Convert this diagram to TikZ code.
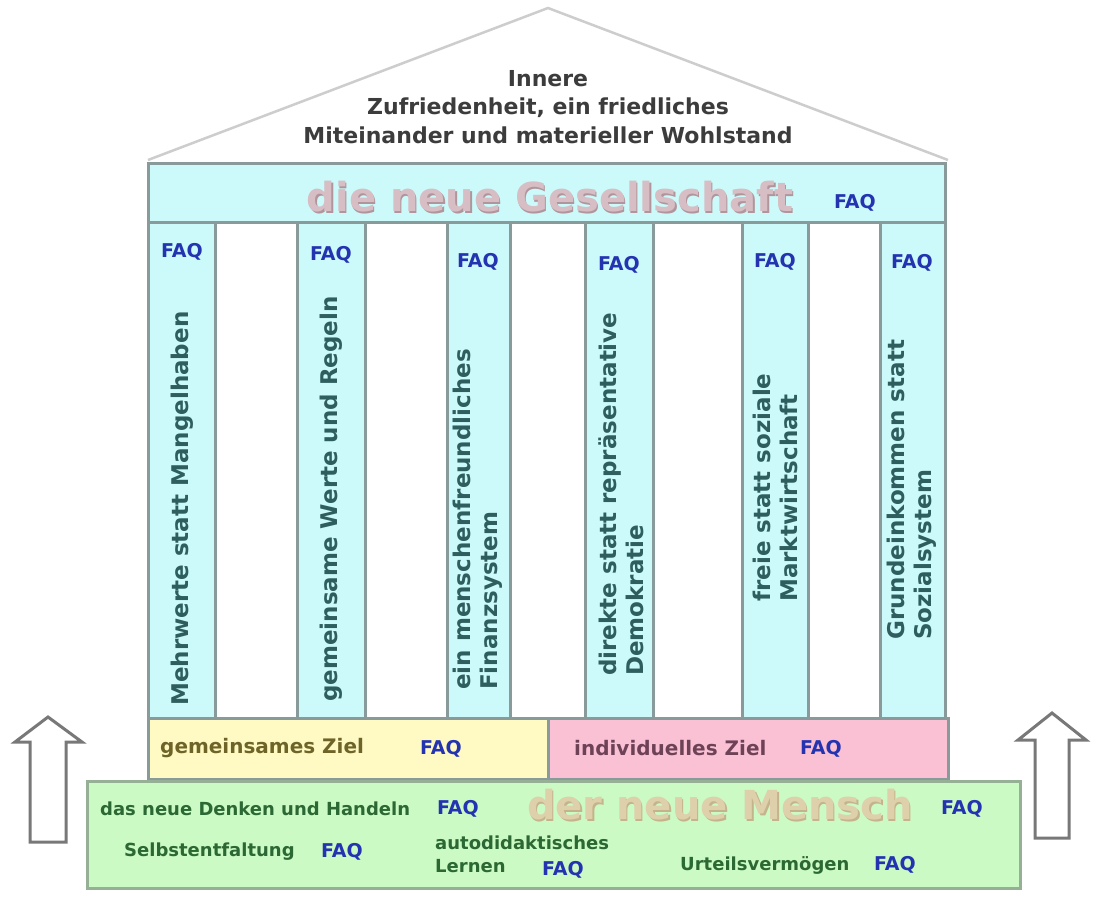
\documentclass[tikz,border=0pt]{standalone}
\usepackage{fontspec}
\setmainfont{DejaVu Sans}
\definecolor{cyanfill}{RGB}{204,250,250}
\definecolor{yellowfill}{RGB}{255,250,196}
\definecolor{pinkfill}{RGB}{250,192,212}
\definecolor{greenfill}{RGB}{204,250,196}
\definecolor{bordergray}{RGB}{136,154,154}
\definecolor{greenborder}{RGB}{150,176,150}
\definecolor{roofgray}{RGB}{205,205,205}
\definecolor{faqblue}{RGB}{36,52,176}
\definecolor{pillartxt}{RGB}{46,94,94}
\definecolor{rooftxt}{RGB}{60,60,60}
\definecolor{olivetxt}{RGB}{110,100,40}
\definecolor{mauvetxt}{RGB}{110,66,86}
\definecolor{greentxt}{RGB}{44,104,52}
\definecolor{gesfill}{RGB}{214,190,196}
\definecolor{gesshadow}{RGB}{176,150,156}
\definecolor{menfill}{RGB}{222,208,170}
\definecolor{menshadow}{RGB}{196,180,140}
\definecolor{arrowgray}{RGB}{120,120,120}
\tikzset{
  band/.style={draw=bordergray, line width=3pt},
  gband/.style={draw=greenborder, line width=3pt, fill=greenfill},
  faq/.style={text=faqblue, font=\bfseries\fontsize{19}{19}\selectfont, inner sep=0pt},
  pillartext/.style={rotate=90, anchor=west, align=left, text=pillartxt, font=\bfseries\fontsize{23}{27}\selectfont, inner sep=0pt},
  rooftext/.style={align=center, text=rooftxt, font=\bfseries\fontsize{22}{28.5}\selectfont, inner sep=0pt},
  bigtxt/.style={font=\bfseries\fontsize{40}{40}\selectfont, inner sep=0pt},
  zieltxt/.style={font=\bfseries\fontsize{20}{20}\selectfont, inner sep=0pt},
  basetxt/.style={text=greentxt, font=\bfseries\fontsize{18}{23}\selectfont, inner sep=0pt},
  uparrow/.style={draw=arrowgray, line width=3pt, fill=white, line join=miter}
}
\begin{document}
\begin{tikzpicture}[x=1pt,y=-1pt]
\useasboundingbox[fill=white] (0,0) rectangle (1100,900);

% roof
\draw[roofgray, line width=2.5pt] (148,160) -- (548,8) -- (948,160);
\node[rooftext] (roof) at (548,107) {Innere\\Zufriedenheit, ein friedliches\\Miteinander und materieller Wohlstand};

% header band
\draw[band, fill=cyanfill] (148,163) rectangle (945,222);
\node[bigtxt, text=gesshadow] (gesS) at (551.5,198.5) {die neue Gesellschaft};
\node[bigtxt, text=gesfill] (ges) at (550,197) {die neue Gesellschaft};
\node[faq] (faqG) at (855,203) {FAQ};

% pillars
\foreach \a/\b in {148/215, 297/365, 447/510, 585/653, 742/808, 880/945}{
  \draw[band, fill=cyanfill] (\a,222) rectangle (\b,718);
}
\node[faq] (faqP1) at (182,252) {FAQ};
\node[faq] (faqP2) at (331,255) {FAQ};
\node[faq] (faqP3) at (478,262) {FAQ};
\node[faq] (faqP4) at (619,265) {FAQ};
\node[faq] (faqP5) at (775,262) {FAQ};
\node[faq] (faqP6) at (912,263) {FAQ};

\node[pillartext] (p1) at (182,706) {Mehrwerte statt Mangelhaben};
\node[pillartext] (p2) at (331,702) {gemeinsame Werte und Regeln};
\node[pillartext] (p3) at (478,690) {ein menschenfreundliches\\Finanzsystem};
\node[pillartext] (p4) at (621,676) {direkte statt repräsentative\\Demokratie};
\node[pillartext] (p5) at (775,602) {freie statt soziale\\Marktwirtschaft};
\node[pillartext] (p6) at (912,640) {Grundeinkommen statt\\Sozialsystem};

% goals
\draw[band, fill=yellowfill] (148,718) rectangle (548,779);
\draw[band, fill=pinkfill] (548,718) rectangle (948,779);
\node[zieltxt, text=olivetxt, anchor=west] (gz) at (160,748) {gemeinsames Ziel};
\node[faq] (faqGZ) at (441,749) {FAQ};
\node[zieltxt, text=mauvetxt, anchor=west] (iz) at (574,748) {individuelles Ziel};
\node[faq] (faqIZ) at (821,749) {FAQ};

% base
\draw[gband] (87,781) rectangle (1020,888);
\node[bigtxt, text=menshadow] (menS) at (721.5,806.5) {der neue Mensch};
\node[bigtxt, text=menfill] (men) at (720,805) {der neue Mensch};
\node[faq] (faqM) at (962,809) {FAQ};
\node[basetxt, anchor=west] (dn) at (100,809) {das neue Denken und Handeln};
\node[faq] (faqDN) at (458,809) {FAQ};
\node[basetxt, anchor=west] (se) at (124,852) {Selbstentfaltung};
\node[faq] (faqSE) at (342,852) {FAQ};
\node[basetxt, anchor=north west, align=left] (al) at (435,836) {autodidaktisches\\Lernen};
\node[faq] (faqAL) at (563,870) {FAQ};
\node[basetxt, anchor=west] (uv) at (680,865) {Urteilsvermögen};
\node[faq] (faqUV) at (895,865) {FAQ};

% arrows
\draw[uparrow] (48,717) -- (82,742) -- (66,742) -- (66,842) -- (30,842) -- (30,742) -- (15,742) -- cycle;
\draw[uparrow] (1052,713) -- (1086,740) -- (1069,740) -- (1069,838) -- (1035,838) -- (1035,740) -- (1018,740) -- cycle;
\end{tikzpicture}
\end{document}
